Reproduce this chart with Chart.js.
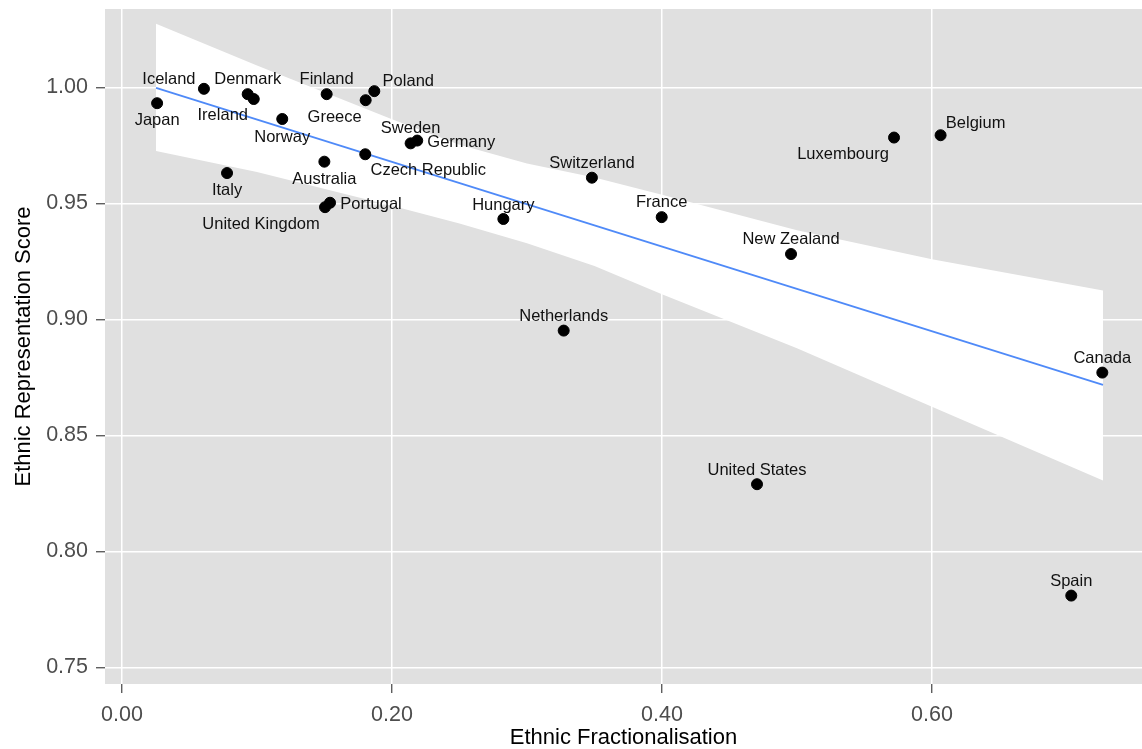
<!DOCTYPE html>
<html>
<head>
<meta charset="utf-8">
<script src="https://cdn.jsdelivr.net/npm/chart.js@4.4.1/dist/chart.umd.min.js"></script>
<style>
	html, body { margin: 0; padding: 0; background: #ffffff; overflow: hidden; }
	#ethnicChart { display: block; }
</style>
</head>
<body>
<canvas id="ethnicChart" width="1142" height="749"></canvas>
<script>
// Countries and their values
const countries = [
	"Japan", "Iceland", "Denmark", "Ireland", "Norway", "Finland", "Greece", "Poland",
	"Sweden", "Germany", "Czech Republic", "Australia", "Italy", "Portugal", "United Kingdom",
	"Hungary", "Switzerland", "France", "New Zealand", "Netherlands", "Luxembourg", "Belgium",
	"United States", "Canada", "Spain",
];
const fractionalisation = [
	0.0260, 0.0607, 0.0931, 0.0976, 0.1187, 0.1516, 0.1805, 0.1869,
	0.2138, 0.2187, 0.1802, 0.1499, 0.0778, 0.1541, 0.1504,
	0.2825, 0.3481, 0.3998, 0.4956, 0.3272, 0.5719, 0.6064,
	0.4704, 0.7262, 0.7032,
];
const representation = [
	0.9932, 0.9994, 0.9971, 0.9950, 0.9864, 0.9971, 0.9945, 0.9984,
	0.9759, 0.9771, 0.9712, 0.9680, 0.9631, 0.9503, 0.9484,
	0.9433, 0.9611, 0.9441, 0.9282, 0.8952, 0.9784, 0.9794,
	0.8290, 0.8771, 0.7810,
];

// Fitted line and its confidence band
const fitX = [0.0252, 0.7267];
const fitY = [0.9998, 0.8718];
const bandX = [0.0252, 0.10, 0.20, 0.25, 0.30, 0.35, 0.40, 0.50, 0.60, 0.7267];
const bandUpper = [1.0274, 1.0095, 0.9863, 0.9753, 0.9672, 0.9612, 0.9537, 0.9384, 0.9260, 0.9125];
const bandLower = [0.9726, 0.9635, 0.9490, 0.9414, 0.9328, 0.9230, 0.9109, 0.8876, 0.8624, 0.8306];

// Axis ticks
const xTicks = [0, 0.2, 0.4, 0.6];
const xTickLabels = ["0.00", "0.20", "0.40", "0.60"];
const yTicks = [0.75, 0.80, 0.85, 0.90, 0.95, 1.00];
const yTickLabels = ["0.75", "0.80", "0.85", "0.90", "0.95", "1.00"];

// Where each label sits relative to its dot (pixels, text centre)
const labelOffsets = {
	"Japan": [0, 17], "Iceland": [-35, -9], "Denmark": [0, -15], "Ireland": [-31, 16],
	"Norway": [0, 18], "Finland": [0, -15], "Greece": [-31, 17], "Poland": [34, -10],
	"Sweden": [0, -15], "Germany": [44, 2], "Czech Republic": [63, 16], "Australia": [0, 18],
	"Italy": [0, 17], "Portugal": [41, 2], "United Kingdom": [-64, 17], "Hungary": [0, -14],
	"Switzerland": [0, -14], "France": [0, -15], "New Zealand": [0, -15], "Netherlands": [0, -14],
	"Luxembourg": [-51, 17], "Belgium": [35, -12], "United States": [0, -14], "Canada": [0, -14],
	"Spain": [0, -14],
};

const FONT = "'Liberation Sans', Arial, Helvetica, sans-serif";

const panelBackground = {
	id: "panelBackground",
	beforeDraw(chart) {
		const { ctx, chartArea: a } = chart;
		ctx.save();
		ctx.fillStyle = "#e0e0e0";
		ctx.fillRect(a.left, a.top, a.right - a.left, a.bottom - a.top);
		ctx.restore();
	},
};

const pointLabels = {
	id: "pointLabels",
	afterDatasetsDraw(chart) {
		const { ctx } = chart;
		const meta = chart.getDatasetMeta(0);
		ctx.save();
		ctx.font = "16.5px " + FONT;
		ctx.fillStyle = "#111111";
		ctx.textAlign = "center";
		ctx.textBaseline = "middle";
		meta.data.forEach(function (pt, i) {
			const name = countries[i];
			const off = labelOffsets[name] || [0, -14];
			ctx.fillText(name, pt.x + off[0], pt.y + off[1]);
		});
		ctx.restore();
	},
};

// no extra room for half tick labels, the panel runs to the canvas edges
function noPadding(scale) {
	scale.paddingTop = 0;
	scale.paddingBottom = 0;
	scale.paddingLeft = 0;
	scale.paddingRight = 0;
}

const canvas = document.getElementById("ethnicChart");

new Chart(canvas, {
	type: "scatter",
	data: {
		datasets: [
			{
				label: "Countries",
				data: countries.map((c, i) => ({ x: fractionalisation[i], y: representation[i] })),
				backgroundColor: "#000000",
				borderColor: "#000000",
				pointRadius: 5.5,
				pointHoverRadius: 5.5,
				order: 0,
			},
			{
				type: "line",
				label: "Fit",
				data: fitX.map((x, i) => ({ x: x, y: fitY[i] })),
				borderColor: "#4f8af8",
				borderWidth: 1.8,
				pointRadius: 0,
				fill: false,
				order: 1,
			},
			{
				type: "line",
				label: "Upper",
				data: bandX.map((x, i) => ({ x: x, y: bandUpper[i] })),
				borderWidth: 0,
				borderColor: "rgba(0,0,0,0)",
				backgroundColor: "#ffffff",
				pointRadius: 0,
				fill: "+1",
				order: 2,
			},
			{
				type: "line",
				label: "Lower",
				data: bandX.map((x, i) => ({ x: x, y: bandLower[i] })),
				borderWidth: 0,
				borderColor: "rgba(0,0,0,0)",
				pointRadius: 0,
				fill: false,
				order: 3,
			},
		],
	},
	options: {
		responsive: false,
		animation: false,
		layout: { autoPadding: false, padding: { top: 9, right: 0, bottom: 0, left: 0 } },
		scales: {
			x: {
				type: "linear",
				min: -0.0126,
				max: 0.7556,
				afterBuildTicks: (scale) => { scale.ticks = xTicks.map((v) => ({ value: v })); },
				afterFit: (scale) => { scale.height = 65; noPadding(scale); },
				border: { display: false },
				grid: {
					color: "#ffffff",
					lineWidth: 1.5,
					drawTicks: true,
					tickLength: 9,
					tickColor: "#444444",
					tickWidth: 1.2,
				},
				ticks: {
					color: "#4d4d4d",
					font: { family: FONT, size: 21.5 },
					padding: 9,
					maxRotation: 0,
					callback: (v) => xTickLabels[xTicks.indexOf(v)] ?? "",
				},
				title: {
					display: true,
					text: "Ethnic Fractionalisation",
					color: "#000000",
					font: { family: FONT, size: 22 },
					padding: { top: 0, bottom: -2 },
				},
			},
			y: {
				type: "linear",
				min: 0.7429,
				max: 1.0338,
				afterBuildTicks: (scale) => { scale.ticks = yTicks.map((v) => ({ value: v })); },
				afterFit: (scale) => { scale.width = 105; noPadding(scale); },
				border: { display: false },
				grid: {
					color: "#ffffff",
					lineWidth: 1.5,
					drawTicks: true,
					tickLength: 9,
					tickColor: "#444444",
					tickWidth: 1.2,
				},
				ticks: {
					color: "#4d4d4d",
					font: { family: FONT, size: 21.5 },
					padding: 8,
					callback: (v) => yTickLabels[yTicks.indexOf(v)] ?? "",
				},
				title: {
					display: true,
					text: "Ethnic Representation Score",
					color: "#000000",
					font: { family: FONT, size: 22 },
					padding: { top: 11, bottom: 0 },
				},
			},
		},
		plugins: {
			legend: { display: false },
			tooltip: { enabled: false },
		},
	},
	plugins: [panelBackground, pointLabels],
});
</script>
</body>
</html>
